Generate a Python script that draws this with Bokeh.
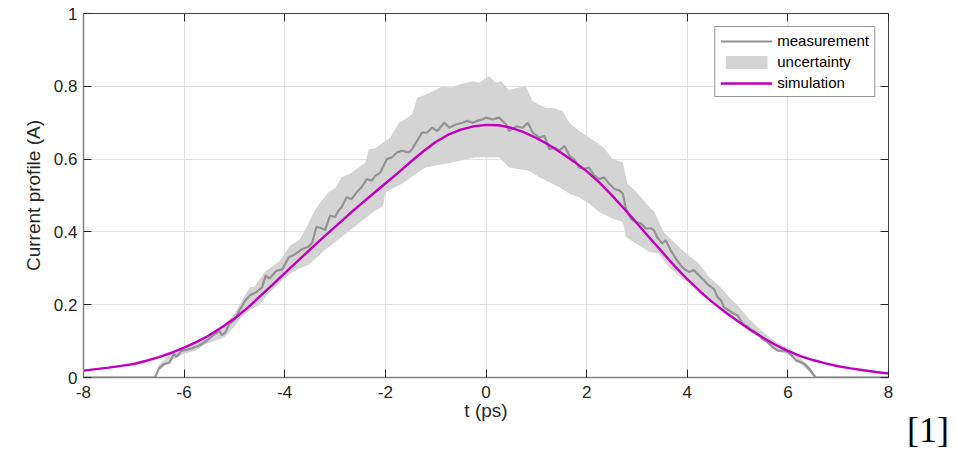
from bokeh.plotting import figure
from bokeh.layouts import row
from bokeh.models import (Legend, LegendItem, LinearAxis, FixedTicker, Div,
                          PrintfTickFormatter, CustomJSTickFormatter, Range1d)
from bokeh.embed import file_html
from bokeh.resources import INLINE

# ---------------- data ----------------
x_ticks = [-8, -6, -4, -2, 0, 2, 4, 6, 8]
y_ticks = [0, 0.2, 0.4, 0.6, 0.8, 1]

meas_t = [-8, -6.58, -6.5, -6.4, -6.3, -6.2, -6.15, -6.05, -5.95, -5.85, -5.7, -5.55,
          -5.45, -5.3, -5.25, -5.18, -5.1, -5.0, -4.9, -4.8, -4.7, -4.57, -4.45, -4.38,
          -4.3, -4.17, -4.05, -3.92, -3.8, -3.65, -3.52, -3.45, -3.37, -3.27, -3.2, -3.1,
          -3.0, -2.93, -2.87, -2.77, -2.67, -2.57, -2.47, -2.37, -2.27, -2.2, -2.1, -1.97,
          -1.87, -1.77, -1.67, -1.53, -1.47, -1.37, -1.27, -1.17, -1.07, -0.97, -0.83,
          -0.73, -0.6, -0.47, -0.37, -0.27, -0.17, -0.07, 0.0, 0.13, 0.26, 0.4, 0.46,
          0.6, 0.73, 0.83, 0.93, 1.06, 1.16, 1.26, 1.36, 1.46, 1.56, 1.66, 1.75, 1.85,
          1.95, 2.05, 2.15, 2.25, 2.35, 2.45, 2.55, 2.65, 2.72, 2.78, 2.88, 2.98, 3.08,
          3.18, 3.28, 3.34, 3.4, 3.5, 3.57, 3.67, 3.77, 3.87, 3.93, 4.03, 4.13, 4.23,
          4.33, 4.43, 4.53, 4.6, 4.67, 4.73, 4.83, 4.93, 5.0, 5.1, 5.2, 5.3, 5.4, 5.5,
          5.6, 5.7, 5.8, 5.9, 6.0, 6.07, 6.16, 6.26, 6.33, 6.43, 6.52, 6.56, 8]
meas_v = [0, 0, 0.025, 0.037, 0.04, 0.065, 0.057, 0.074, 0.076, 0.08, 0.088, 0.101,
          0.113, 0.128, 0.116, 0.124, 0.147, 0.158, 0.184, 0.208, 0.225, 0.234, 0.248,
          0.28, 0.272, 0.293, 0.297, 0.33, 0.338, 0.353, 0.36, 0.372, 0.414, 0.41,
          0.405, 0.445, 0.441, 0.459, 0.468, 0.495, 0.49, 0.509, 0.523, 0.545, 0.541,
          0.554, 0.563, 0.6, 0.605, 0.618, 0.623, 0.618, 0.627, 0.65, 0.673, 0.673,
          0.686, 0.677, 0.7, 0.686, 0.695, 0.7, 0.705, 0.7, 0.705, 0.709, 0.714, 0.709,
          0.714, 0.695, 0.677, 0.69, 0.686, 0.7, 0.673, 0.659, 0.664, 0.627, 0.632,
          0.623, 0.636, 0.609, 0.6, 0.577, 0.573, 0.577, 0.555, 0.545, 0.55, 0.532,
          0.518, 0.514, 0.505, 0.464, 0.436, 0.427, 0.423, 0.409, 0.41, 0.405, 0.386,
          0.368, 0.377, 0.35, 0.327, 0.308, 0.299, 0.29, 0.295, 0.281, 0.267, 0.253,
          0.243, 0.221, 0.212, 0.193, 0.184, 0.175, 0.171, 0.148, 0.139, 0.129, 0.12,
          0.106, 0.097, 0.083, 0.074, 0.074, 0.07, 0.061, 0.047, 0.042, 0.037, 0.023,
          0.005, 0, 0]

upper_t = [-6.58, -6.5, -6.2, -6.0, -5.8, -5.6, -5.4, -5.2, -5.0, -4.9, -4.7, -4.6,
           -4.4, -4.3, -4.1, -3.9, -3.7, -3.53, -3.4, -3.3, -3.13, -3.0, -2.87, -2.7,
           -2.53, -2.4, -2.33, -2.2, -2.0, -1.9, -1.73, -1.6, -1.47, -1.37, -1.2, -1.0,
           -0.87, -0.7, -0.53, -0.4, -0.27, -0.13, 0.0, 0.07, 0.2, 0.3, 0.46, 0.6, 0.79,
           0.93, 1.05, 1.19, 1.35, 1.52, 1.66, 1.85, 2.05, 2.25, 2.35, 2.52, 2.72, 2.81,
           2.95, 3.05, 3.25, 3.35, 3.53, 3.7, 3.9, 4.03, 4.23, 4.43, 4.63, 4.83, 5.03,
           5.23, 5.43, 5.63, 5.83, 6.03, 6.23, 6.43, 6.56]
upper_v = [0.0, 0.035, 0.075, 0.085, 0.093, 0.11, 0.13, 0.145, 0.175, 0.2, 0.247, 0.25,
           0.29, 0.3, 0.32, 0.362, 0.38, 0.423, 0.46, 0.48, 0.509, 0.52, 0.55, 0.56,
           0.577, 0.59, 0.627, 0.63, 0.65, 0.66, 0.7, 0.71, 0.723, 0.768, 0.777, 0.79,
           0.8, 0.797, 0.805, 0.81, 0.814, 0.81, 0.823, 0.827, 0.81, 0.814, 0.79, 0.795,
           0.8, 0.759, 0.75, 0.741, 0.74, 0.732, 0.7, 0.677, 0.659, 0.641, 0.63, 0.6,
           0.591, 0.532, 0.515, 0.5, 0.468, 0.455, 0.4, 0.377, 0.35, 0.335, 0.313, 0.276,
           0.253, 0.221, 0.194, 0.161, 0.134, 0.111, 0.093, 0.08, 0.056, 0.03, 0.0]

lower_t = [-6.58, -6.5, -6.2, -6.0, -5.8, -5.6, -5.4, -5.2, -5.0, -4.9, -4.7, -4.5,
           -4.3, -4.1, -3.9, -3.7, -3.53, -3.2, -2.87, -2.53, -2.2, -2.05, -2.0, -1.67,
           -1.4, -1.2, -0.87, -0.53, -0.2, 0.0, 0.26, 0.46, 0.86, 1.06, 1.46, 1.66, 1.85,
           2.05, 2.25, 2.52, 2.72, 2.78, 2.98, 3.25, 3.44, 3.63, 3.9, 4.17, 4.43, 4.7,
           4.97, 5.23, 5.5, 5.76, 6.03, 6.23, 6.43, 6.56]
lower_v = [0.0, 0.02, 0.05, 0.065, 0.072, 0.09, 0.1, 0.11, 0.14, 0.16, 0.184, 0.2,
           0.235, 0.26, 0.284, 0.3, 0.309, 0.35, 0.386, 0.423, 0.459, 0.47, 0.509, 0.532,
           0.559, 0.577, 0.586, 0.595, 0.605, 0.605, 0.605, 0.577, 0.568, 0.55, 0.523,
           0.505, 0.495, 0.477, 0.455, 0.436, 0.427, 0.386, 0.368, 0.345, 0.34, 0.304,
           0.272, 0.249, 0.221, 0.184, 0.157, 0.129, 0.102, 0.074, 0.061, 0.04, 0.015,
           0.0]

sim_t = [-8, -7.75, -7.5, -7.25, -7, -6.75, -6.5, -6.25, -6, -5.75, -5.5, -5.25, -5,
         -4.75, -4.5, -4.25, -4, -3.75, -3.5, -3.25, -3, -2.75, -2.5, -2.25, -2, -1.75,
         -1.5, -1.25, -1, -0.75, -0.5, -0.25, 0, 0.25, 0.5, 0.75, 1, 1.25, 1.5, 1.75,
         2, 2.25, 2.5, 2.75, 3, 3.25, 3.5, 3.75, 4, 4.25, 4.5, 4.75, 5, 5.25, 5.5,
         5.75, 6, 6.25, 6.5, 6.75, 7, 7.25, 7.5, 7.75, 8]
sim_v = [0.019, 0.023, 0.027, 0.032, 0.037, 0.046, 0.056, 0.068, 0.082, 0.098, 0.116,
         0.138, 0.162, 0.19, 0.222, 0.254, 0.287, 0.319, 0.351, 0.383, 0.414, 0.445,
         0.475, 0.504, 0.533, 0.562, 0.592, 0.621, 0.647, 0.667, 0.681, 0.69, 0.694,
         0.693, 0.686, 0.674, 0.658, 0.639, 0.617, 0.593, 0.567, 0.536, 0.501, 0.463,
         0.424, 0.384, 0.345, 0.306, 0.27, 0.237, 0.207, 0.18, 0.155, 0.131, 0.11,
         0.09, 0.073, 0.059, 0.048, 0.039, 0.031, 0.025, 0.02, 0.015, 0.011]

# ---------------- figure ----------------
FONT = "Liberation Sans"
TXT = "#262626"

p = figure(width=900, height=444, x_range=Range1d(-8, 8), y_range=Range1d(0, 1),
           output_backend="svg", toolbar_location=None,
           min_border_left=83, min_border_right=12, min_border_top=13,
           min_border_bottom=67, background_fill_color="white",
           border_fill_color="white")
p.outline_line_color = "#404040"
p.outline_line_width = 1

band_x = upper_t + lower_t[::-1]
band_y = upper_v + lower_v[::-1]
r_band = p.patch(band_x, band_y, fill_color="#d4d4d4", line_color=None)
r_meas = p.line(meas_t, meas_v, line_color="#939393", line_width=2.2)
r_sim = p.line(sim_t, sim_v, line_color="#bf00bf", line_width=2.4)

for ax in (p.xaxis[0], p.yaxis[0]):
    ax.axis_line_color = "#808080"
    ax.axis_line_width = 1.5
    ax.major_tick_in = 8
    ax.major_tick_out = 0
    ax.minor_tick_line_color = None
    ax.major_tick_line_color = TXT
    ax.major_label_text_font = FONT
    ax.major_label_text_font_size = "17px"
    ax.major_label_text_color = TXT
    ax.axis_label_text_font = FONT
    ax.axis_label_text_font_style = "normal"
    ax.axis_label_text_color = TXT
    ax.axis_label_text_font_size = "19px"

p.xaxis.ticker = FixedTicker(ticks=x_ticks)
p.yaxis.ticker = FixedTicker(ticks=y_ticks)
p.xaxis.formatter = PrintfTickFormatter(format="%g")
p.yaxis.formatter = PrintfTickFormatter(format="%g")
p.xaxis.major_label_standoff = 8
p.yaxis.major_label_standoff = 6
p.xaxis.axis_label = "t (ps)"
p.yaxis.axis_label = "Current profile (A)"
p.xaxis.axis_label_standoff = -1
p.yaxis.axis_label_standoff = 7

blank = CustomJSTickFormatter(code="return ''")
right_ax = LinearAxis(ticker=FixedTicker(ticks=y_ticks), formatter=blank,
                      major_tick_in=8, major_tick_out=0, axis_line_color=None,
                      minor_tick_line_color=None, major_tick_line_color=TXT,
                      major_label_standoff=0, major_label_text_font_size="0px")
top_ax = LinearAxis(ticker=FixedTicker(ticks=x_ticks), formatter=blank,
                    major_tick_in=8, major_tick_out=0, axis_line_color=None,
                    minor_tick_line_color=None, major_tick_line_color=TXT,
                    major_label_standoff=0, major_label_text_font_size="0px")
p.add_layout(right_ax, "right")
p.add_layout(top_ax, "above")

p.xgrid.ticker = FixedTicker(ticks=x_ticks)
p.ygrid.ticker = FixedTicker(ticks=y_ticks)
p.grid.grid_line_color = "#e2e2e2"
p.grid.grid_line_width = 1

legend = Legend(items=[LegendItem(label="measurement", renderers=[r_meas]),
                       LegendItem(label="uncertainty", renderers=[r_band]),
                       LegendItem(label="simulation", renderers=[r_sim])],
                location="top_right", margin=13, padding=5, spacing=4,
                glyph_width=52, glyph_height=16, label_standoff=5,
                label_text_font=FONT, label_text_font_size="15px",
                label_text_color="#000000", border_line_color="#303030",
                border_line_width=1, background_fill_color="white",
                background_fill_alpha=1)
p.add_layout(legend, "center")

ref = Div(text='<div style="margin-top:407px;margin-left:2px;'
               'font-family:\'Liberation Serif\',serif;font-size:36px;'
               'line-height:1;color:#000;">[1]</div>',
          width=42, height=444)

open("out.html", "w").write(file_html(row(p, ref), INLINE))
